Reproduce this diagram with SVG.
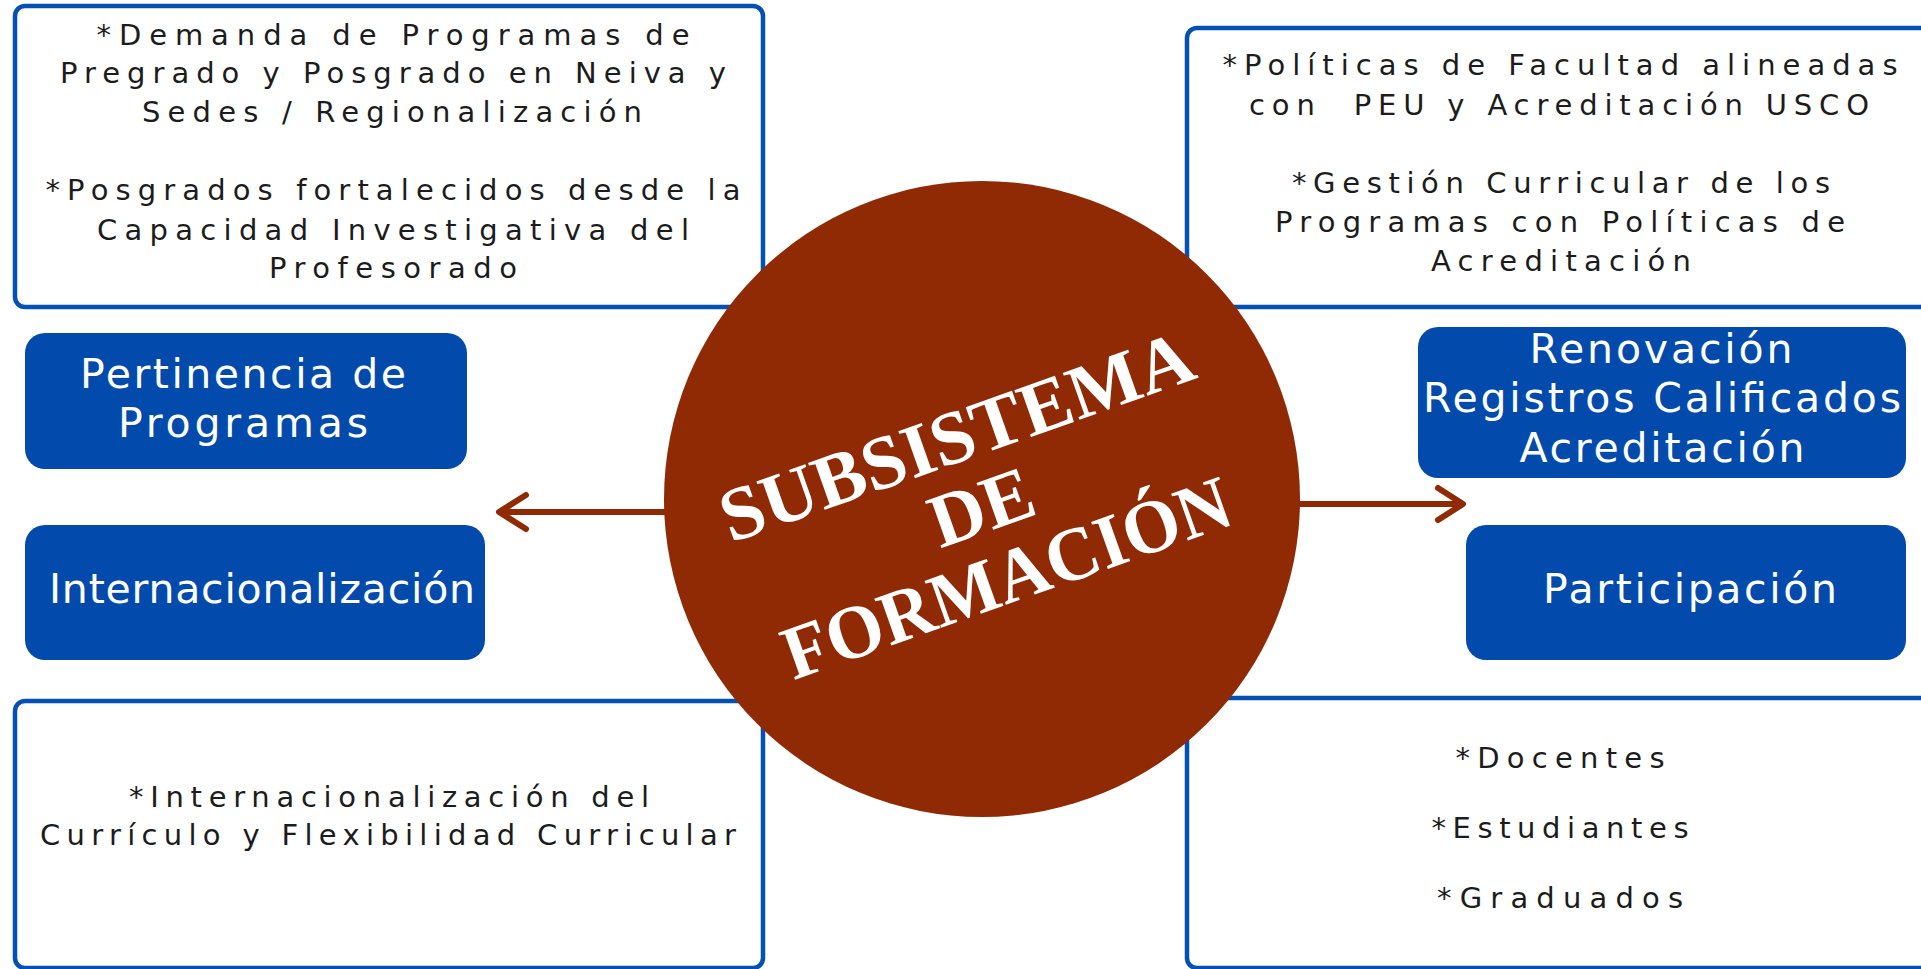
<svg xmlns="http://www.w3.org/2000/svg" width="1921" height="969" viewBox="0 0 1921 969">
<defs>
<style>
.frame{fill:#ffffff;stroke:#0550B5;stroke-width:4.5}
.blue{fill:#024BAC}
.t{font-family:"DejaVu Sans","Open Sans",sans-serif;font-size:29px;fill:#1c1c1c;text-anchor:middle}
.w{font-family:"DejaVu Sans","Open Sans",sans-serif;font-size:41px;fill:#ffffff;text-anchor:middle}
.c{font-family:"Liberation Serif","DejaVu Serif",serif;font-weight:bold;font-size:76px;fill:#ffffff;text-anchor:middle}
.arr{stroke:#8F2A04;stroke-width:6;fill:none;stroke-linecap:round;stroke-linejoin:round}
</style>
</defs>
<rect width="1921" height="969" fill="#ffffff"/>

<g id="box-top-left">
<rect class="frame" x="15" y="6" width="748" height="301" rx="10"/>
<text class="t" x="393" y="45" textLength="593" lengthAdjust="spacing">*Demanda de Programas de</text>
<text class="t" x="393" y="83" textLength="666" lengthAdjust="spacing">Pregrado y Posgrado en Neiva y</text>
<text class="t" x="392" y="122" textLength="500" lengthAdjust="spacing">Sedes / Regionalización</text>
<text class="t" x="393" y="200" textLength="695" lengthAdjust="spacing">*Posgrados fortalecidos desde la</text>
<text class="t" x="393" y="240" textLength="592" lengthAdjust="spacing">Capacidad Investigativa del</text>
<text class="t" x="393" y="278" textLength="248" lengthAdjust="spacing">Profesorado</text>
</g>

<g id="box-top-right">
<rect class="frame" x="1187" y="28" width="770" height="279" rx="10"/>
<text class="t" x="1560" y="75" textLength="675" lengthAdjust="spacing">*Políticas de Facultad alineadas</text>
<text class="t" x="1559" y="115" textLength="620" lengthAdjust="spacing" xml:space="preserve">con  PEU y Acreditación USCO</text>
<text class="t" x="1561" y="193" textLength="538" lengthAdjust="spacing">*Gestión Curricular de los</text>
<text class="t" x="1560" y="232" textLength="570" lengthAdjust="spacing">Programas con Políticas de</text>
<text class="t" x="1561" y="271" textLength="260" lengthAdjust="spacing">Acreditación</text>
</g>

<g id="box-bottom-left">
<rect class="frame" x="15" y="701" width="748" height="267" rx="10"/>
<text class="t" x="389" y="807" textLength="520" lengthAdjust="spacing">*Internacionalización del</text>
<text class="t" x="388" y="845" textLength="696" lengthAdjust="spacing">Currículo y Flexibilidad Curricular</text>
</g>

<g id="box-bottom-right">
<rect class="frame" x="1187" y="698" width="770" height="270" rx="10"/>
<text class="t" x="1560" y="768" textLength="209" lengthAdjust="spacing">*Docentes</text>
<text class="t" x="1560" y="838" textLength="257" lengthAdjust="spacing">*Estudiantes</text>
<text class="t" x="1560" y="908" textLength="246" lengthAdjust="spacing">*Graduados</text>
</g>

<g id="node-pertinencia">
<rect class="blue" x="25" y="333" width="442" height="136" rx="20"/>
<text class="w" x="243" y="388" textLength="326" lengthAdjust="spacing">Pertinencia de</text>
<text class="w" x="243" y="437" textLength="250" lengthAdjust="spacing">Programas</text>
</g>

<g id="node-internacionalizacion">
<rect class="blue" x="25" y="525" width="460" height="135" rx="20"/>
<text class="w" x="262" y="603" textLength="426" lengthAdjust="spacing">Internacionalización</text>
</g>

<g id="node-renovacion">
<rect class="blue" x="1418" y="327" width="488" height="151" rx="20"/>
<text class="w" x="1661" y="363" textLength="263" lengthAdjust="spacing">Renovación</text>
<text class="w" x="1662" y="412" textLength="478" lengthAdjust="spacing">Registros Calificados</text>
<text class="w" x="1662" y="462" textLength="285" lengthAdjust="spacing">Acreditación</text>
</g>

<g id="node-participacion">
<rect class="blue" x="1466" y="525" width="440" height="135" rx="20"/>
<text class="w" x="1690" y="603" textLength="294" lengthAdjust="spacing">Participación</text>
</g>

<g id="connectors">
<line class="arr" x1="668" y1="512" x2="501" y2="512"/>
<polyline class="arr" points="526,495 499,512 526,529"/>
<line class="arr" x1="1296" y1="504" x2="1460" y2="504"/>
<polyline class="arr" points="1438,488 1463,504 1438,520"/>
</g>

<g id="node-center">
<circle cx="982" cy="499" r="318" fill="#8F2A04"/>
<g transform="translate(990,531) rotate(-19.5)">
<text class="c" x="0" y="-75" textLength="497" lengthAdjust="spacingAndGlyphs">SUBSISTEMA</text>
<text class="c" x="0" y="0">DE</text>
<text class="c" x="0" y="75" textLength="470" lengthAdjust="spacingAndGlyphs">FORMACIÓN</text>
</g>
</g>
</svg>
